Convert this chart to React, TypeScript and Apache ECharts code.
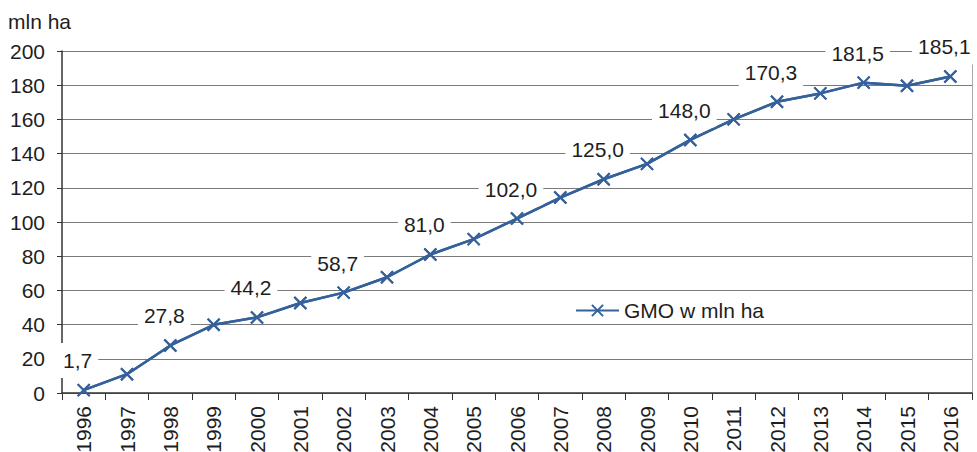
import React, { useEffect, useRef } from "react";
import * as echarts from "echarts";

const years = ["1996","1997","1998","1999","2000","2001","2002","2003","2004","2005","2006","2007","2008","2009","2010","2011","2012","2013","2014","2015","2016"];
const gmoValues = [1.7, 11.0, 27.8, 39.9, 44.2, 52.6, 58.7, 67.7, 81.0, 90.0, 102.0, 114.3, 125.0, 134.0, 148.0, 160.0, 170.3, 175.2, 181.5, 179.7, 185.1];
const labeledYears = ["1996","1998","2000","2002","2004","2006","2008","2010","2012","2014","2016"];
const seriesName = "GMO w mln ha";
const yAxisTitle = "mln ha";

const BLUE = "#35619b";
const TXT = "#1e1e1e";
const FONT = "Liberation Sans, Arial, sans-serif";

export default function App() {
  const ref = useRef<HTMLDivElement>(null);
  useEffect(() => {
    if (!ref.current) return;
    const chart = echarts.init(ref.current, undefined, { renderer: "svg" });
    const labeledData = gmoValues.map((v, i) => ({
      value: v,
      label: { show: labeledYears.includes(years[i]) },
    }));
    const lineCommon = {
      name: seriesName,
      type: "line",
      yAxisIndex: 0,
      symbol: "path://M0,0L10,10M10,0L0,10",
      symbolSize: 12,
      showAllSymbol: true,
      lineStyle: { color: BLUE, width: 2.5 },
      itemStyle: { color: BLUE, borderColor: BLUE, borderWidth: 2 },
    };
    chart.setOption({
      animation: false,
      textStyle: { fontFamily: FONT },
      title: {
        text: yAxisTitle,
        left: 8,
        top: 11,
        padding: 0,
        textStyle: { fontSize: 21, fontWeight: "normal", color: TXT, fontFamily: FONT },
      },
      legend: {
        left: 575,
        top: 300,
        padding: 0,
        itemWidth: 43,
        itemHeight: 14,
        textStyle: { fontSize: 21, color: TXT, fontFamily: FONT },
        data: [seriesName],
      },
      grid: { left: 62, right: 5, top: 51, bottom: 59, outerBoundsMode: "none", containLabel: false },
      xAxis: {
        type: "category",
        data: years,
        boundaryGap: true,
        axisLine: { lineStyle: { color: "#333", width: 1.5 } },
        axisTick: { show: true, length: 7, lineStyle: { color: "#333" } },
        axisLabel: {
          rotate: 90,
          interval: 0,
          margin: 13,
          fontSize: 21,
          color: TXT,
          fontFamily: FONT,
        },
        splitLine: { show: false },
      },
      yAxis: [
        {
          type: "value",
          min: 0,
          max: 200,
          interval: 20,
          axisLine: { show: true, lineStyle: { color: "#333", width: 1.5 } },
          axisTick: { show: true, length: 5, lineStyle: { color: "#333" } },
          axisLabel: { fontSize: 21, color: TXT, margin: 17, fontFamily: FONT },
          splitLine: { show: true, lineStyle: { color: "#7a7a7a", width: 1 } },
        },
        {
          type: "value",
          position: "right",
          min: 0,
          max: 200,
          interval: 20,
          axisLine: { show: true, lineStyle: { color: "#aaa", width: 1 } },
          axisTick: { show: false },
          axisLabel: { show: false },
          splitLine: { show: false },
        },
      ],
      series: [
        {
          ...lineCommon,
          z: 2,
          data: labeledData,
          label: {
            position: "top",
            distance: 5,
            offset: [-6, 0],
            fontSize: 21,
            color: TXT,
            fontFamily: FONT,
            backgroundColor: "#ffffff",
            padding: [7, 6],
            formatter: (p: any) => Number(p.value).toFixed(1).replace(".", ","),
          },
        },
        {
          ...lineCommon,
          z: 5,
          data: gmoValues,
          label: { show: false },
        },
      ],
    });
    return () => chart.dispose();
  }, []);
  return <div ref={ref} style={{ width: 977, height: 452, position: "absolute", left: 0, top: 0 }} />;
}
